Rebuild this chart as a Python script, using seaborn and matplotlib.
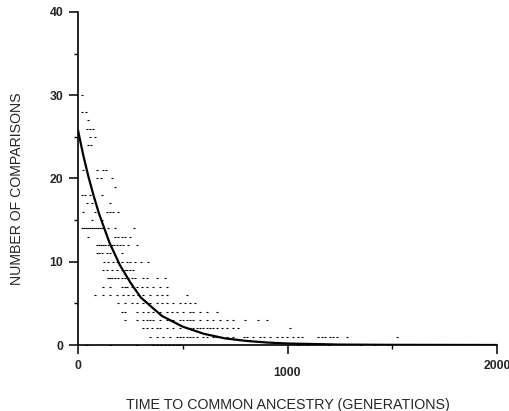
import numpy as np
import pandas as pd
import matplotlib
matplotlib.use("Agg")
import matplotlib.pyplot as plt
import matplotlib.transforms as mtransforms
import seaborn as sns

# ---- data ----
row30 = [19]
row28 = [19, 38]
row27 = [48]
row26 = [43, 57, 72]
row25 = [57, 81]
row24 = [48, 62]
row21 = [24, 91, 119, 134]
row20 = [93, 112, 160]
row19 = [177]
row18 = [19, 33, 57, 113]
row17 = [41, 67, 153]
row16 = [24, 81, 138, 153, 169, 193]
row15 = [67, 115]
row14 = [19, 29, 38, 48, 57, 67, 76, 86, 96, 105, 115, 143, 177, 267]
row13 = [48, 177, 193, 208, 224, 248]
row12 = [91, 100, 110, 120, 129, 143, 162, 172, 186, 200, 215, 239, 282]
row11 = [91, 100, 113, 137, 153, 208]
row10 = [124, 143, 167, 186, 208, 232, 248, 272, 300, 334]
row9 = [121, 140, 161, 185, 208, 222, 236, 250, 264]
row8 = [143, 153, 162, 177, 191, 210, 224, 239, 258, 272, 310, 329, 377, 415]
row7 = [119, 153, 208, 222, 236, 256, 280, 304, 328, 359, 391, 423]
row6 = [81, 119, 153, 186, 215, 239, 262, 286, 310, 344, 377, 401, 425, 520]
row5 = [191, 224, 258, 282, 310, 344, 377, 401, 425, 453, 487, 511, 535, 558]
row4 = [209, 224, 280, 312, 336, 359, 391, 423, 447, 471, 503, 535, 550, 582,
        616, 663]
row3 = [224, 280, 312, 328, 344, 359, 391, 423, 455, 487, 503, 519, 535, 550,
        582, 614, 646, 678, 710, 741, 797, 859, 902]
row2 = [312, 328, 353, 377, 391, 423, 455, 487, 519, 535, 550, 566, 582, 598,
        614, 630, 646, 662, 687, 711, 741, 765, 1012]
row1 = [344, 377, 406, 439, 472, 487, 501, 520, 535, 549, 570, 597, 616, 644,
        660, 678, 711, 740, 790, 807, 835, 869, 890, 916, 950, 974, 998, 1026,
        1050, 1069, 1146, 1165, 1179, 1203, 1217, 1236, 1284, 1523]
row0 = [41, 153, 282, 358, 377, 396, 415, 434, 453, 472, 487, 1050, 1100,
        1200, 1350, 1420, 1480]

rows = {30: row30, 28: row28, 27: row27, 26: row26, 25: row25, 24: row24,
        21: row21, 20: row20, 19: row19, 18: row18, 17: row17, 16: row16,
        15: row15, 14: row14, 13: row13, 12: row12, 11: row11, 10: row10,
        9: row9, 8: row8, 7: row7, 6: row6, 5: row5, 4: row4, 3: row3,
        2: row2, 1: row1, 0: row0}

curve_x = [0, 25, 50, 75, 100, 150, 200, 250, 300, 400, 500, 600, 700, 800,
           900, 1000, 1250, 1500, 2000]
curve_y = [25.8, 22.8, 20.2, 17.9, 15.8, 12.3, 9.6, 7.5, 5.7, 3.5, 2.2, 1.35,
           0.8, 0.5, 0.3, 0.18, 0.05, 0.02, 0.0]

x_ticks = [0, 1000, 2000]
y_ticks = [0, 10, 20, 30, 40]

pts = pd.DataFrame([(g, n) for n, gs in rows.items() for g in gs],
                   columns=["gen", "n"])
curve = pd.DataFrame({"gen": curve_x, "n": curve_y})

# ---- figure ----
sns.set_style("ticks")
plt.rcParams["font.family"] = ["Liberation Sans", "DejaVu Sans"]

fig = plt.figure(figsize=(5.10, 4.11), dpi=100)
ax = fig.add_axes([78 / 510, 1 - 345 / 411, 419 / 510, 333 / 411])

sns.scatterplot(data=pts, x="gen", y="n", ax=ax, marker="_", s=2.2,
                color="black", linewidth=0.8, legend=False, zorder=3)
sns.lineplot(data=curve, x="gen", y="n", ax=ax, color="black",
             linewidth=1.6, zorder=4)

ax.set_xlim(0, 2000)
ax.set_ylim(0, 40)
sns.despine(ax=ax)
for s in ("left", "bottom"):
    ax.spines[s].set_linewidth(1.2)
    ax.spines[s].set_color("black")

ax.set_xticks(x_ticks)
ax.set_xticklabels([str(v) for v in x_ticks])
ax.set_yticks(y_ticks)
ax.set_yticklabels([str(v) for v in y_ticks])
ax.set_xticks([500, 1500], minor=True)
ax.set_yticks([5, 15, 25, 35], minor=True)
ax.tick_params(which="major", direction="out", length=6.5, width=1.1,
               color="black", labelsize=8.8, pad=4)
ax.tick_params(which="minor", direction="out", length=3, width=1.0,
               color="black")
for lab in ax.get_xticklabels() + ax.get_yticklabels():
    lab.set_fontweight("bold")

# the middle x tick label sits a little lower in the reference
lbl = ax.get_xticklabels()[1]
lbl.set_transform(lbl.get_transform() +
                  mtransforms.ScaledTranslation(0, -5 / 72, fig.dpi_scale_trans))

ax.set_xlabel("TIME TO COMMON ANCESTRY (GENERATIONS)", fontsize=10.3)
ax.set_ylabel("NUMBER OF COMPARISONS", fontsize=10.2)
ax.xaxis.set_label_coords(0.5, -0.158)
ax.yaxis.set_label_coords(-0.128, 0.47)

fig.savefig("out.png", dpi=100)
